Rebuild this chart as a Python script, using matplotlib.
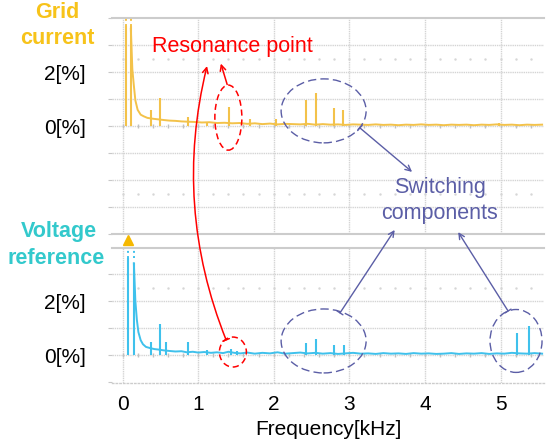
import numpy as np
import matplotlib
matplotlib.use('Agg')
import matplotlib.pyplot as plt
from matplotlib.patches import Ellipse, ConnectionPatch

plt.rcParams['font.family'] = ['Liberation Sans', 'DejaVu Sans']

# grid current spectrum (floor + harmonic peaks), [kHz] / [%]
top_f = [0.11, 0.13, 0.15, 0.17, 0.20, 0.24, 0.28, 0.33,
         0.40, 0.46, 0.55, 0.62, 0.70, 0.78, 0.86, 0.95,
         1.05, 1.15, 1.25, 1.35, 1.45, 1.55, 1.65, 1.75,
         1.85, 1.95, 2.05, 2.15, 2.25, 2.35, 2.45, 2.55,
         2.65, 2.75, 2.85, 2.95, 3.05, 3.15, 3.25, 3.35,
         3.45, 3.55, 3.65, 3.75, 3.85, 3.95, 4.05, 4.15,
         4.25, 4.35, 4.45, 4.55, 4.65, 4.75, 4.85, 4.95,
         5.05, 5.15, 5.25, 5.35, 5.45, 5.55]
top_v = [3.60, 2.10, 1.50, 0.95, 0.60, 0.42, 0.36, 0.30,
         0.27, 0.25, 0.22, 0.20, 0.19, 0.17, 0.16, 0.15,
         0.13, 0.14, 0.11, 0.12, 0.10, 0.11, 0.08, 0.10,
         0.07, 0.09, 0.06, 0.08, 0.07, 0.06, 0.08, 0.05,
         0.07, 0.05, 0.06, 0.04, 0.06, 0.05, 0.04, 0.06,
         0.04, 0.05, 0.03, 0.05, 0.04, 0.06, 0.04, 0.05,
         0.03, 0.05, 0.04, 0.05, 0.03, 0.05, 0.04, 0.06,
         0.04, 0.05, 0.03, 0.05, 0.04, 0.05]
top_pk_f = [0.05, 0.11, 0.38, 0.50, 0.87, 1.12, 1.41, 1.68, 2.03, 2.43, 2.56, 2.80, 2.92, 4.98]
top_pk_v = [3.70, 3.70, 0.60, 1.05, 0.35, 0.15, 0.70, 0.25, 0.25, 0.96, 1.22, 0.67, 0.60, 0.10]

# voltage reference spectrum
bot_f = [0.15, 0.17, 0.19, 0.21, 0.24, 0.27, 0.31, 0.36,
         0.42, 0.48, 0.55, 0.62, 0.70, 0.78, 0.85, 0.93,
         1.00, 1.08, 1.17, 1.25, 1.33, 1.40, 1.48, 1.56,
         1.65, 1.75, 1.85, 1.95, 2.05, 2.15, 2.25, 2.35,
         2.45, 2.55, 2.65, 2.75, 2.85, 2.95, 3.05, 3.15,
         3.25, 3.35, 3.45, 3.55, 3.65, 3.75, 3.85, 3.95,
         4.05, 4.15, 4.25, 4.35, 4.45, 4.55, 4.65, 4.75,
         4.85, 4.95, 5.05, 5.15, 5.25, 5.35, 5.45, 5.55]
bot_v = [3.40, 2.00, 1.30, 0.85, 0.55, 0.40, 0.30, 0.26,
         0.22, 0.20, 0.17, 0.15, 0.13, 0.14, 0.10, 0.12,
         0.09, 0.11, 0.08, 0.10, 0.07, 0.12, 0.08, 0.06,
         0.09, 0.05, 0.08, 0.06, 0.10, 0.05, 0.07, 0.09,
         0.06, 0.08, 0.05, 0.07, 0.04, 0.06, 0.08, 0.05,
         0.06, 0.04, 0.07, 0.05, 0.06, 0.04, 0.07, 0.05,
         0.06, 0.04, 0.05, 0.07, 0.04, 0.06, 0.05, 0.07,
         0.04, 0.06, 0.05, 0.08, 0.06, 0.05, 0.07, 0.05]
bot_pk_f = [0.07, 0.15, 0.38, 0.50, 0.57, 0.87, 1.12, 1.43, 1.52, 2.43, 2.56, 2.80, 2.93, 5.22, 5.37]
bot_pk_v = [3.60, 3.40, 0.48, 1.15, 0.48, 0.48, 0.20, 0.22, 0.15, 0.45, 0.60, 0.38, 0.38, 0.81, 1.07]

x_ticks = [0, 1, 2, 3, 4, 5]

c_top = '#f3c24a'
c_bot = '#3fc1ec'
c_grid = '#d4d4d4'
c_sw = '#5b5ea6'
W, H = 546, 442

fig = plt.figure(figsize=(W / 100, H / 100), dpi=100)
L, R = 112, 544
ax1 = fig.add_axes([L / W, (H - 234) / H, (R - L) / W, (234 - 18) / H])
ax2 = fig.add_axes([L / W, (H - 383) / H, (R - L) / W, (383 - 248) / H])

xlim = (-0.139, 5.575)
minor_x = np.arange(0, 5.6, 0.2)


def style(ax, ylo, yhi, gy, dots):
    ax.set_xlim(*xlim)
    ax.set_ylim(ylo, yhi)
    for s in ['left', 'right']:
        ax.spines[s].set_visible(False)
    for s in ['top', 'bottom']:
        ax.spines[s].set_color('#cccccc')
        ax.spines[s].set_linewidth(1.5)
    for x in x_ticks:
        ax.axvline(x, color=c_grid, lw=1.0, ls=(0, (1, 0.6)), zorder=0)
    for y in gy:
        ax.axhline(y, color=c_grid, lw=1.0, ls=(0, (1, 0.6)), zorder=0)
    for y in dots:
        ax.plot(minor_x, [y] * len(minor_x), ls='none', marker='s', ms=0.7,
                color='#d6d6d6', zorder=0)
    ax.plot(minor_x, [0] * len(minor_x), ls='none', marker='|', ms=2.5,
            color='#c0c0c0', zorder=0)
    yt = list(range(int(np.ceil(ylo)), int(np.floor(yhi)) + 1))
    ax.set_yticks(yt)
    ax.set_yticklabels(['2[%]' if t == 2 else '0[%]' if t == 0 else '' for t in yt],
                       fontsize=15)
    ax.tick_params(axis='y', length=3, color='#c8c8c8', pad=16)


style(ax1, -4, 4, [-3, -2, -1, 0, 1, 2, 3], [2.5, -2.5])
style(ax2, -1.037, 3.963, [0, 1, 2, 3], [2.5])
ax1.set_xticks(x_ticks)
ax1.tick_params(axis='x', length=0, labelbottom=False)
ax2.spines['bottom'].set_linestyle(':')
ax2.spines['bottom'].set_linewidth(1.0)
ax2.set_xticks(x_ticks)
ax2.set_xticklabels([str(t) for t in x_ticks], fontsize=15)
ax2.tick_params(axis='x', length=0, pad=9)
ax2.set_xlabel('Frequency[kHz]', fontsize=15, labelpad=4)

# spectra
ax1.plot(top_f, top_v, color=c_top, lw=1.4, zorder=3)
ax1.vlines(top_pk_f, 0, top_pk_v, color=c_top, lw=1.5, zorder=3)
ax1.vlines(top_pk_f[:2], top_pk_v[0], 4, color=c_top, lw=1.4, ls=':', zorder=3)

ax2.plot(bot_f, bot_v, color=c_bot, lw=1.4, zorder=3)
ax2.vlines(bot_pk_f, 0, bot_pk_v, color=c_bot, lw=1.5, zorder=3)
ax2.vlines(bot_pk_f[:2], bot_pk_v[0], 3.963, color=c_bot, lw=1.4, ls=':', zorder=3)
ax2.plot([bot_pk_f[0]], [4.26], marker='^', ms=7, color='#f5b800', clip_on=False, zorder=5)

# side labels
fig.text(57 / W, 1 - 12 / H, 'Grid', color='#f7c31a', fontsize=15.5, fontweight='bold',
         ha='center', va='center')
fig.text(57 / W, 1 - 38 / H, 'current', color='#f7c31a', fontsize=15.5, fontweight='bold',
         ha='center', va='center')
fig.text(59 / W, 1 - 232 / H, 'Voltage', color='#33c9cc', fontsize=15.5, fontweight='bold',
         ha='center', va='center')
fig.text(56 / W, 1 - 258 / H, 'reference', color='#33c9cc', fontsize=15.5, fontweight='bold',
         ha='center', va='center')

# resonance annotation
ax1.text(1.45, 2.95, 'Resonance point', color='red', fontsize=15.5, ha='center', va='center')
ax1.add_patch(Ellipse((1.40, 0.31), 0.357, 2.41, fill=False, ec='red', lw=1.1, ls=(0, (4, 2.5)),
                      zorder=6))
ax2.add_patch(Ellipse((1.46, 0.11), 0.357, 1.11, fill=False, ec='red', lw=1.1, ls=(0, (4, 2.5)),
                      zorder=6, clip_on=False))
ax1.annotate('', xy=(1.29, 2.41), xytext=(1.395, 1.44),
             arrowprops=dict(arrowstyle='->', color='red', lw=1.1))
fig.add_artist(ConnectionPatch(xyA=(1.37, 0.56), coordsA=ax2.transData,
                               xyB=(1.118, 2.22), coordsB=ax1.transData,
                               arrowstyle=']->,widthA=0.25,lengthA=0', color='red', lw=1.1,
                               connectionstyle='arc3,rad=-0.16'))

# switching components annotation
fig.text(440 / W, 1 - 187 / H, 'Switching', color=c_sw, fontsize=15.5, ha='center', va='center')
fig.text(440 / W, 1 - 213 / H, 'components', color=c_sw, fontsize=15.5, ha='center', va='center')
ax1.add_patch(Ellipse((2.66, 0.56), 1.124, 2.37, fill=False, ec=c_sw, lw=1.0, ls=(0, (6, 3)),
                      zorder=6))
ax2.add_patch(Ellipse((2.66, 0.52), 1.124, 2.37, fill=False, ec=c_sw, lw=1.0, ls=(0, (6, 3)),
                      zorder=6, clip_on=False))
ax2.add_patch(Ellipse((5.205, 0.52), 0.688, 2.33, fill=False, ec=c_sw, lw=1.0, ls=(0, (6, 3)),
                      zorder=6, clip_on=False))
sw_arrows = [((3.14, -0.07), ax1, (3.83, -1.70)),
             ((2.877, 1.56), ax2, (3.60, -3.85)),
             ((5.10, 1.63), ax2, (4.44, -3.93))]
for tail, tax, head in sw_arrows:
    fig.add_artist(ConnectionPatch(xyA=tail, coordsA=tax.transData,
                                   xyB=head, coordsB=ax1.transData,
                                   arrowstyle=']->,widthA=0.25,lengthA=0', color=c_sw, lw=1.0))

fig.savefig('out.png', dpi=100)
